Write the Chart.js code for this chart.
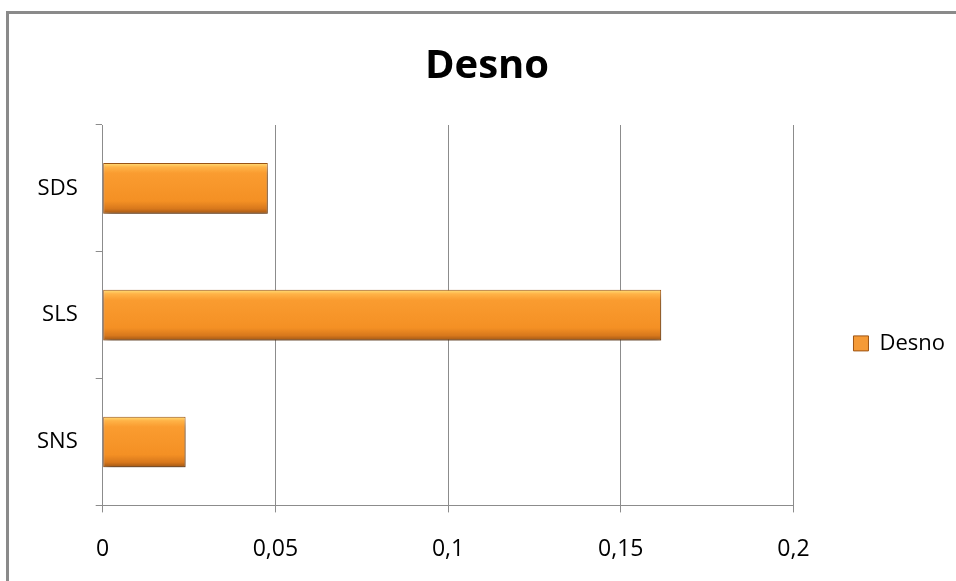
<!DOCTYPE html>
<html>
<head>
<meta charset="utf-8">
<script src="https://cdn.jsdelivr.net/npm/chart.js@4.4.0/dist/chart.umd.min.js"></script>
<style>
    html, body { margin: 0; padding: 0; background: #fff; overflow: hidden; width: 956px; height: 581px; }
    #frame { position: absolute; left: 6px; top: 11px; border-left: 3px solid #8a8a8a; border-top: 3px solid #8a8a8a; }
    #chart { display: block; }
</style>
</head>
<body>
<div id="frame"><canvas id="chart" width="958" height="572"></canvas></div>
<script>
const categories = ['SDS', 'SLS', 'SNS'];
const desnoValues = [0.0478, 0.1617, 0.024];
const xTickLabels = ['0', '0,05', '0,1', '0,15', '0,2'];

const barPct = 0.4;
const font = "'Open Sans', sans-serif";

// bevel-like vertical gradient for each bar
function barGradient(c) {
    const chart = c.chart;
    const yScale = chart.scales.y;
    if (!chart.chartArea || !yScale) return '#F7962F';
    const center = yScale.getPixelForValue(c.dataIndex);
    const half = yScale.height / categories.length * barPct / 2;
    const g = chart.ctx.createLinearGradient(0, center - half, 0, center + half);
    g.addColorStop(0, '#FFE07A');
    g.addColorStop(0.08, '#FFB347');
    g.addColorStop(0.2, '#FA9C30');
    g.addColorStop(0.75, '#F49024');
    g.addColorStop(0.9, '#D8781C');
    g.addColorStop(1, '#9E5514');
    return g;
}

// soft shadow under the bars
const barShadow = {
    id: 'barShadow',
    beforeDatasetsDraw(chart) {
        const ctx = chart.ctx;
        ctx.save();
        ctx.shadowColor = 'rgba(0,0,0,0.45)';
        ctx.shadowBlur = 8;
        ctx.shadowOffsetX = 2;
        ctx.shadowOffsetY = 6;
    },
    afterDatasetsDraw(chart) {
        chart.ctx.restore();
    }
};

const ctx = document.getElementById('chart').getContext('2d');
const chart = new Chart(ctx, {
    type: 'bar',
    data: {
        labels: categories,
        datasets: [{
            label: 'Desno',
            data: desnoValues,
            backgroundColor: barGradient,
            borderColor: '#9E5514',
            borderWidth: 1,
            borderSkipped: false,
            barPercentage: barPct,
            categoryPercentage: 1
        }]
    },
    options: {
        indexAxis: 'y',
        responsive: false,
        animation: false,
        layout: { padding: { left: 10, right: 12, top: 0, bottom: 0 } },
        plugins: {
            title: {
                display: true,
                text: 'Desno',
                color: '#000',
                font: { family: font, size: 40, weight: 'bold' },
                padding: { top: 29, bottom: 34 }
            },
            legend: {
                position: 'right',
                fullSize: false,
                title: { display: true, text: '', padding: { top: 42, bottom: 0 } },
                labels: {
                    color: '#000',
                    font: { family: font, size: 22 },
                    boxWidth: 15,
                    boxHeight: 15,
                    padding: 60,
                    generateLabels: () => [{
                        text: 'Desno',
                        fillStyle: '#F59A36',
                        strokeStyle: '#9E5514',
                        fontColor: '#000',
                        lineWidth: 1,
                        datasetIndex: 0
                    }]
                }
            },
            tooltip: { enabled: false }
        },
        scales: {
            x: {
                min: 0,
                max: 0.2,
                ticks: {
                    stepSize: 0.05,
                    color: '#000',
                    padding: 23,
                    font: { family: font, size: 23 },
                    callback: (value, index) => xTickLabels[index]
                },
                grid: { color: '#8c8c8c', lineWidth: 1, tickLength: 7 },
                border: { color: '#8c8c8c', width: 1 }
            },
            y: {
                ticks: {
                    color: '#000',
                    padding: 18,
                    font: { family: font, size: 22 }
                },
                grid: { color: '#8c8c8c', drawOnChartArea: false, tickLength: 7, offset: true },
                border: { color: '#8c8c8c', width: 1 }
            }
        }
    },
    plugins: [barShadow]
});
</script>
</body>
</html>
